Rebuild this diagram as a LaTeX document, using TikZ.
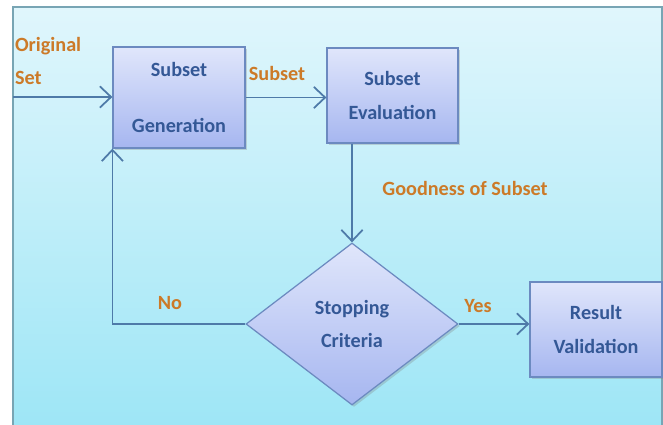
\documentclass[tikz,border=0pt]{standalone}
\usepackage{fontspec}
\setmainfont{Carlito}
\usetikzlibrary{shapes.geometric,arrows.meta,shadows}

\definecolor{bgtop}{RGB}{224,246,252}
\definecolor{bgbot}{RGB}{158,230,246}
\definecolor{frameline}{RGB}{120,165,180}
\definecolor{boxtop}{RGB}{224,230,251}
\definecolor{boxbot}{RGB}{166,182,240}
\definecolor{boxline}{RGB}{108,138,192}
\definecolor{boxtext}{RGB}{52,88,150}
\definecolor{tagtext}{RGB}{204,122,40}
\definecolor{flowline}{RGB}{78,122,168}

\begin{document}
\begin{tikzpicture}[x=0.4mm,y=0.4mm,
  >={Straight Barb[length=4.5mm,width=8.5mm]},
  every node/.style={font=\fontsize{23}{38}\selectfont\bfseries},
  block/.style={draw=boxline, line width=1.4pt, top color=boxtop, bottom color=boxbot,
    text=boxtext, align=center,
    drop shadow={shadow xshift=0.8mm, shadow yshift=-0.8mm, opacity=0.3}},
  decision/.style={block, diamond, inner sep=0pt},
  tag/.style={text=tagtext},
  flow/.style={draw=flowline, line width=2pt}]
  \useasboundingbox (0,0) rectangle (663,425);
  % background
  \shade[top color=bgtop, bottom color=bgbot] (13,0) rectangle (662,418);
  \draw[frameline, line width=1.2pt] (13,0) -- (13,418) -- (662,418) -- (662,0);
  % blocks
  \node[block, minimum width=52.8mm, minimum height=40.4mm] (gen) at (179,327.5) {Subset\\[25pt]Generation};
  \node[block, minimum width=52.4mm, minimum height=38mm] (eval) at (392.5,329.5) {Subset\\Evaluation};
  \node[decision, minimum width=84.8mm, minimum height=64.8mm] (stop) at (352,101) {Stopping\\Criteria};
  \node[block, minimum width=52.8mm, minimum height=38mm] (res) at (596,95.5) {Result\\Validation};
  % arrows
  \coordinate (src) at (13,328);
  \draw[flow,->] (src) -- (src -| gen.west);
  \draw[flow,->] (gen.east) -- (gen.east -| eval.west);
  \draw[flow,->] (eval.south -| stop.north) -- (stop.north);
  \draw[flow,->] (stop.west) -| (gen.south west);
  \draw[flow,->] (stop.east) -- (stop.east -| res.west);
  % labels
  \node[tag, anchor=west, align=left, inner sep=1pt] (orig) at (14,364) {Original\\Set};
  \node[tag] (sub) at (277,352) {Subset};
  \node[tag] (good) at (465,237) {Goodness of Subset};
  \node[tag] (no) at (170,122) {No};
  \node[tag] (yes) at (478,119) {Yes};
\end{tikzpicture}
\end{document}
